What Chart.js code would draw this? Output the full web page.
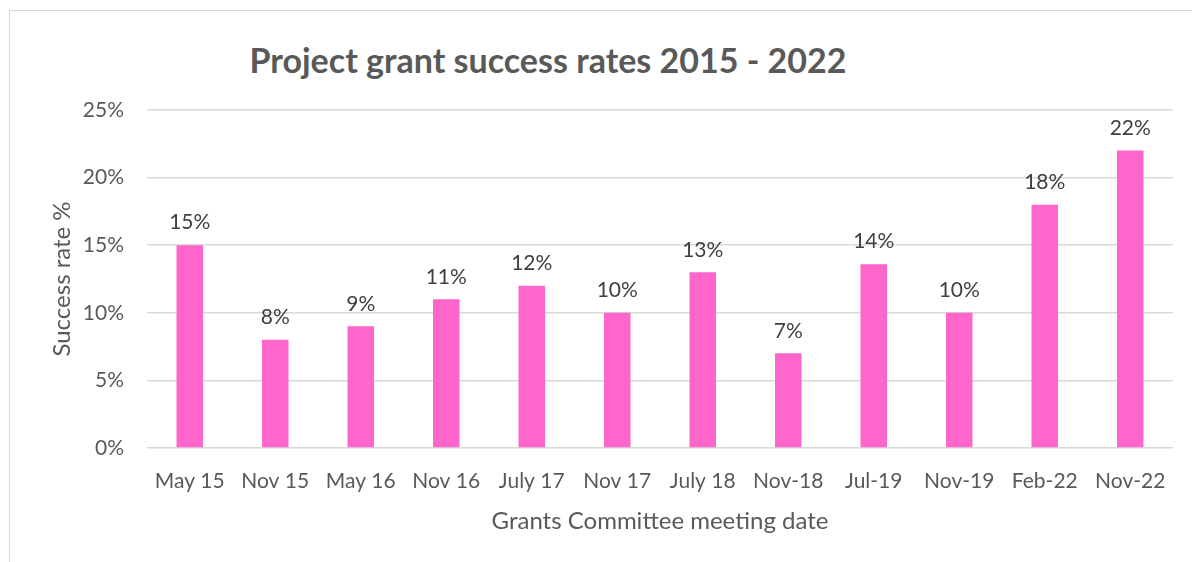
<!DOCTYPE html>
<html>
<head>
<meta charset="utf-8">
<script src="https://cdn.jsdelivr.net/npm/chart.js@4/dist/chart.umd.min.js"></script>
<style>
  html, body { margin: 0; padding: 0; background: #fff; }
  #wrap { position: relative; width: 1192px; height: 562px; overflow: hidden; }
  #frame {
    position: absolute; left: 9px; top: 10px; width: 1400px; height: 800px;
    border: 1.5px solid #d9d9d9; box-sizing: border-box;
  }
  #title {
    position: absolute; top: 39px; left: 198px; width: 700px; text-align: center;
    font: bold 34px Lato, "Open Sans", sans-serif; color: #595959; white-space: nowrap;
  }
  canvas { position: absolute; left: 0; top: 0; }
</style>
</head>
<body>
<div id="wrap">
  <div id="frame"></div>
  <div id="title">Project grant success rates 2015 - 2022</div>
  <canvas id="chart" width="1192" height="562"></canvas>
</div>
<script>
// categories and values
const meetings = ['May 15', 'Nov 15', 'May 16', 'Nov 16', 'July 17', 'Nov 17',
                  'July 18', 'Nov-18', 'Jul-19', 'Nov-19', 'Feb-22', 'Nov-22'];
const successRates = [15, 8, 9, 11, 12, 10, 13, 7, 13.6, 10, 18, 22];
const yTicks = [0, 5, 10, 15, 20, 25];

const FONT = 'Lato, "Open Sans", sans-serif';

// labels above each bar
const barLabels = {
  id: 'barLabels',
  afterDatasetsDraw(chart) {
    const ctx = chart.ctx;
    const meta = chart.getDatasetMeta(0);
    ctx.save();
    ctx.font = '21px ' + FONT;
    ctx.fillStyle = '#404040';
    ctx.textAlign = 'center';
    ctx.textBaseline = 'bottom';
    meta.data.forEach((bar, i) => {
      ctx.fillText(Math.round(successRates[i]) + '%', bar.x, bar.y - 12);
    });
    ctx.restore();
  }
};

new Chart(document.getElementById('chart'), {
  type: 'bar',
  data: {
    labels: meetings,
    datasets: [{
      data: successRates,
      backgroundColor: '#FF66CC',
      barPercentage: 0.31,
      categoryPercentage: 1
    }]
  },
  options: {
    responsive: false,
    animation: false,
    layout: { padding: { left: 48, right: 19, top: 110, bottom: 26 } },
    plugins: {
      legend: { display: false },
      tooltip: { enabled: false }
    },
    scales: {
      x: {
        grid: { display: false, drawTicks: false },
        border: { display: false },
        ticks: { color: '#595959', font: { family: FONT, size: 21 }, padding: 21 },
        title: {
          display: true, text: 'Grants Committee meeting date',
          color: '#595959', font: { family: FONT, size: 24 }, padding: { top: -8, bottom: 0 }
        }
      },
      y: {
        min: 0, max: 25,
        afterBuildTicks(scale) { scale.ticks = yTicks.map(v => ({ value: v })); },
        afterFit(scale) { scale.width = 147 - 48; },
        grid: { color: '#d9d9d9', lineWidth: 1.5, drawTicks: false },
        border: { display: false },
        ticks: {
          color: '#595959', font: { family: FONT, size: 21 }, padding: 23,
          callback: v => v + '%'
        },
        title: {
          display: true, text: 'Success rate %',
          color: '#595959', font: { family: FONT, size: 24 }, padding: 0
        }
      }
    }
  },
  plugins: [barLabels]
});
</script>
</body>
</html>
